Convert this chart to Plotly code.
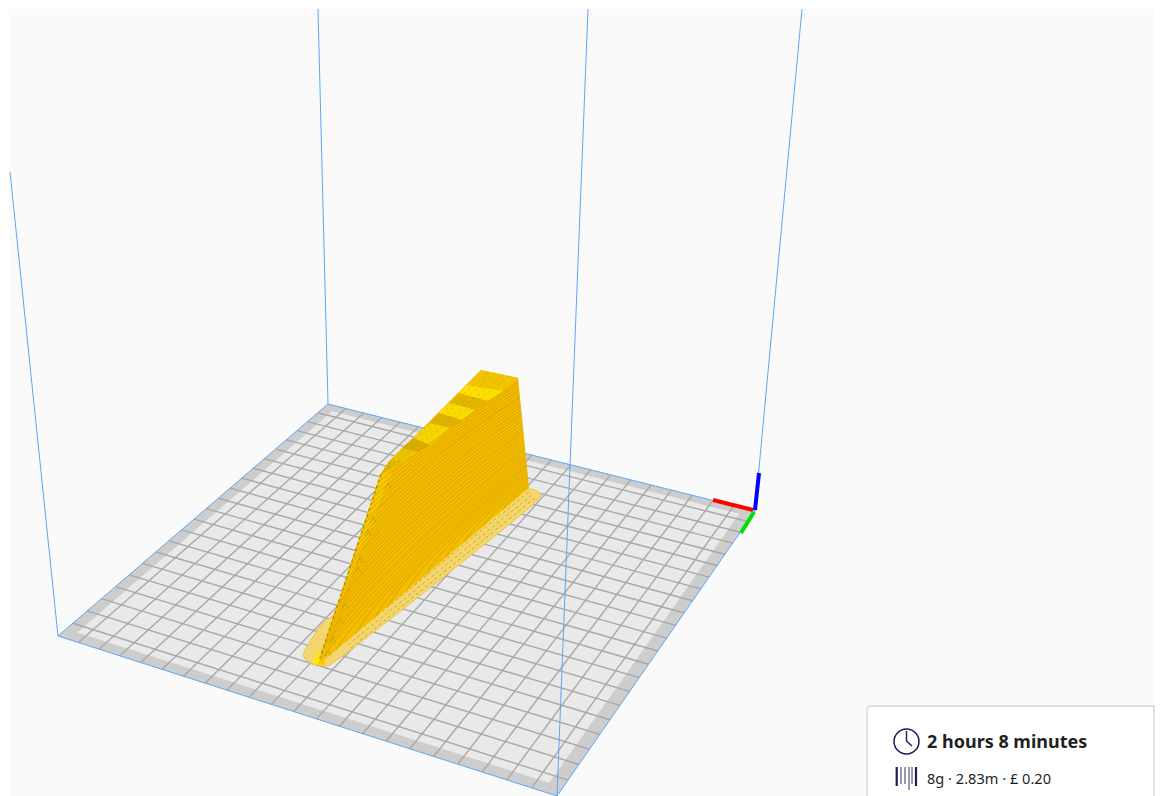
import numpy as np
import plotly.graph_objects as go

# ---- values (screen pixels of the viewport) ----
viewport_x = [9, 1154, 1154, 9, 9]
viewport_y = [9, 9, 796, 796, 9]

# plate corners: left, front, right, back
corner_x = [58, 557, 755, 328]
corner_y = [636, 796, 511, 404]
plate_mm = 220
grid_mm = [0, 10, 20, 30, 40, 50, 60, 70, 80, 90, 100, 110, 120, 130, 140, 150, 160, 170, 180, 190, 200, 210, 220]
border_mm = 5.5

# build volume verticals: base corner -> where it leaves the view
vert_x0 = [58, 328, 557, 755]
vert_y0 = [636, 404, 796, 511]
vert_x1 = [10, 318, 588, 802]
vert_y1 = [172, 9, 9, 9]

# axis gizmo
gizmo_red_x, gizmo_red_y = [713, 753], [500, 510]
gizmo_green_x, gizmo_green_y = [754, 741], [512, 533]
gizmo_blue_x, gizmo_blue_y = [755, 759], [510, 473]

# printed object
brim_x = [529, 537, 541, 537, 340, 327, 310, 303, 309, 323, 420]
brim_y = [489, 491, 495, 501, 658, 666, 663, 656, 643, 623, 560]
side_x = [518, 529, 317, 380, 390]
side_y = [378, 488, 666, 475, 462]
ridge_x = [380, 392, 331, 324, 317]
ridge_y = [475, 472, 628, 665, 666]
top_x = [481, 518, 380, 390]
top_y = [370, 378, 475, 461]
tip_x = [314, 321, 318, 316]
tip_y = [665, 665, 652, 652]

band_colors = ["#f2c400", "#fde000", "#e2b600", "#fbdc00", "#dfb100", "#f8d400", "#d8ac00", "#eec400", "#e4b600"]
band_x = [
    [481, 518, 503, 467], [467, 503, 488, 458], [458, 488, 475, 450],
    [450, 475, 462, 438], [438, 462, 450, 430], [430, 450, 430, 413],
    [413, 430, 418, 402], [402, 418, 403, 390], [390, 403, 380, 380],
]
band_y = [
    [370, 378, 391, 385], [385, 391, 401, 393], [393, 401, 410, 403],
    [403, 410, 420, 413], [413, 420, 428, 423], [423, 428, 445, 438],
    [438, 445, 452, 448], [448, 452, 462, 460], [460, 462, 475, 475],
]
hatch_x0 = [488, 495, 503, 510]
hatch_y0 = [372, 373, 375, 376]
hatch_x1 = [386, 384, 383, 381]
hatch_y1 = [465, 468, 471, 474]

# where each printed layer meets the right edge of the fin
layer_right_y = [381, 384, 387, 390, 393, 396, 398, 401, 404, 407, 410, 413, 415, 418,
                 421, 424, 427, 430, 432, 435, 438, 441, 444, 447, 449, 452, 455, 458,
                 461, 464, 466, 469, 472, 475, 478, 481, 484]

chevron_x = [388, 373, 368, 360, 358, 345, 340, 333, 328]
chevron_y = [483, 517, 530, 557, 567, 603, 618, 637, 650]

# info card
card_x0, card_y0, card_x1, card_y1 = 867, 706, 1154, 800
clock_cx, clock_cy, clock_r = 906.5, 741.5, 12.5
clock_hand_x, clock_hand_y = [906.5, 906.5, 912], [731, 741, 746]
bar_x = [896.7, 901, 905, 909, 912, 916]
bar_y0 = [767, 767, 767, 767, 767, 767]
bar_y1 = [786, 784, 784, 790, 784, 786]
bar_w = [2.2, 0.9, 0.9, 0.9, 0.9, 2.2]
title_text = "2 hours 8 minutes"
info_text = "8g · 2.83m · £ 0.20"
text_x, title_y, info_y = 927, 743.5, 780.5

NAVY = "#1c1a5c"
BLUE = "#5aa8f2"


def homography():
    src = [(0, 0), (plate_mm, 0), (plate_mm, plate_mm), (0, plate_mm)]
    a, b = [], []
    for (u, v), x, y in zip(src, corner_x, corner_y):
        a.append([u, v, 1, 0, 0, 0, -u * x, -v * x]); b.append(x)
        a.append([0, 0, 0, u, v, 1, -u * y, -v * y]); b.append(y)
    h = np.linalg.solve(np.array(a, float), np.array(b, float))
    return np.append(h, 1).reshape(3, 3)


H = homography()


def proj(u, v):
    p = H @ np.array([u, v, 1.0])
    return p[0] / p[2], p[1] / p[2]


def poly(pts, color, name):
    xs = [p[0] for p in pts] + [pts[0][0]]
    ys = [p[1] for p in pts] + [pts[0][1]]
    return go.Scatter(x=xs, y=ys, mode="lines", fill="toself", fillcolor=color,
                      line=dict(width=0, color=color), hoverinfo="skip", name=name)


fig = go.Figure()

# plate
lo, hi = border_mm, plate_mm - border_mm
fig.add_trace(poly([proj(0, 0), proj(plate_mm, 0), proj(plate_mm, plate_mm), proj(0, plate_mm)], "#cdcdcd", "plate border"))
fig.add_trace(poly([proj(lo, lo), proj(hi, lo), proj(hi, hi), proj(lo, hi)], "#e9e9e9", "plate"))

gx, gy = [], []
for g in grid_mm[1:-1]:
    for a, b in ((proj(g, 0), proj(g, plate_mm)), (proj(0, g), proj(plate_mm, g))):
        gx += [a[0], b[0], None]
        gy += [a[1], b[1], None]
fig.add_trace(go.Scatter(x=gx, y=gy, mode="lines", line=dict(color="#a8a8a8", width=1.4), hoverinfo="skip", name="grid"))

# plate outline (blue)
fig.add_trace(go.Scatter(x=corner_x + corner_x[:1], y=corner_y + corner_y[:1], mode="lines",
                         line=dict(color=BLUE, width=1), hoverinfo="skip", name="volume base"))

# back verticals
vx, vy = [], []
for i in range(4):
    vx += [vert_x0[i], vert_x1[i], None]
    vy += [vert_y0[i], vert_y1[i], None]
fig.add_trace(go.Scatter(x=vx, y=vy, mode="lines", line=dict(color=BLUE, width=1), hoverinfo="skip", name="volume edges"))

# brim
fig.add_trace(go.Scatter(x=brim_x + brim_x[:1], y=brim_y + brim_y[:1], mode="lines", fill="toself",
                         fillcolor="#f3d670", line=dict(color="#e8bd30", width=0.8, shape="spline", smoothing=0.6),
                         hoverinfo="skip", name="brim"))
for dx, dy in ((0, 0), (3, 3), (6, 6)):
    fig.add_trace(go.Scatter(x=[345 + dx, 530 + dx], y=[642 + dy, 491 + dy], mode="lines",
                             line=dict(color="#d9a800", width=1, dash="dot"), hoverinfo="skip", name="brim hatch"))

# side face
fig.add_trace(poly(list(zip(side_x, side_y)), "#f4bd00", "side"))
fig.add_trace(poly(list(zip(ridge_x, ridge_y)), "#f8c800", "ridge"))

# top face
fig.add_trace(poly(list(zip(top_x, top_y)), "#e8b800", "top"))
for c, bx, by in zip(band_colors, band_x, band_y):
    fig.add_trace(poly(list(zip(bx, by)), c, "top band"))
hx, hy = [], []
for i in range(len(hatch_x0)):
    hx += [hatch_x0[i], hatch_x1[i], None]
    hy += [hatch_y0[i], hatch_y1[i], None]
fig.add_trace(go.Scatter(x=hx, y=hy, mode="lines", opacity=0.55,
                         line=dict(color="#c09a00", width=0.8, dash="dot"), hoverinfo="skip", name="top hatch"))

# ridge texture
fig.add_trace(go.Scatter(x=[381, 318], y=[474, 664], mode="lines",
                         line=dict(color="#a58500", width=1.2, dash="dot"), hoverinfo="skip", name="ridge edge"))
cx, cy = [], []
for x, y in zip(chevron_x, chevron_y):
    cx += [x - 3, x, x + 3, None]
    cy += [y + 6, y, y + 6, None]
fig.add_trace(go.Scatter(x=cx, y=cy, mode="lines", opacity=0.6,
                         line=dict(color="#a8900f", width=0.9), hoverinfo="skip", name="chevrons"))
fig.add_trace(poly(list(zip(tip_x, tip_y)), "#ffe600", "tip"))

# layer arcs as one native quadratic path
Ox, Oy = side_x[1], side_y[1]
Tx, Ty = side_x[0], side_y[0]
Ex0, Ey0 = side_x[3], side_y[3]
Ex1, Ey1 = side_x[2], side_y[2]
parts = []
for ry in layer_right_y:
    f = (ry - Ty) / (Oy - Ty)
    rx = Tx + (Ox - Tx) * f
    if f < 0.7:
        t = f / 0.7
        ex, ey = Ex0 + (Ex1 - Ex0) * t, Ey0 + (Ey1 - Ey0) * t
    else:
        t = (f - 0.7) / 0.3
        ex, ey = Ex1 + (Ox - Ex1) * t, Ey1 + (Oy - Ey1) * t
    k = 0.5 + 0.45 * f
    qx = Ox + k * ((rx - Ox) + (ex - Ox))
    qy = Oy + k * ((ry - Oy) + (ey - Oy))
    parts.append(f"M{rx:.1f},{ry:.1f} Q{qx:.1f},{qy:.1f} {ex:.1f},{ey:.1f}")
layer_path = " ".join(parts)

# gizmo
for xs, ys, col in ((gizmo_red_x, gizmo_red_y, "#ff0000"), (gizmo_green_x, gizmo_green_y, "#00e000"),
                    (gizmo_blue_x, gizmo_blue_y, "#0000ff")):
    fig.add_trace(go.Scatter(x=xs, y=ys, mode="lines", line=dict(color=col, width=4), hoverinfo="skip", name="axis"))

# card icon pieces
fig.add_trace(go.Scatter(x=clock_hand_x, y=clock_hand_y, mode="lines", line=dict(color=NAVY, width=1.4),
                         hoverinfo="skip", name="clock hand"))
for x, y0, y1, w in zip(bar_x, bar_y0, bar_y1, bar_w):
    fig.add_trace(go.Scatter(x=[x, x], y=[y0, y1], mode="lines", line=dict(color=NAVY, width=w),
                             hoverinfo="skip", name="bar"))

fig.add_trace(go.Scatter(x=[text_x], y=[title_y], mode="text", text=[title_text], textposition="middle right",
                         textfont=dict(family="Noto Sans", size=18, color="#1f1f1f", weight=700), hoverinfo="skip", name="time"))
fig.add_trace(go.Scatter(x=[text_x], y=[info_y], mode="text", text=[info_text], textposition="middle right",
                         textfont=dict(family="Noto Sans", size=14.6, color="#1f1f1f"), hoverinfo="skip", name="usage"))

r = 5
card_path = (f"M{card_x0},{card_y1} L{card_x0},{card_y0 + r} Q{card_x0},{card_y0} {card_x0 + r},{card_y0} "
             f"L{card_x1},{card_y0} L{card_x1},{card_y1} Z")

fig.update_layout(
    width=1169, height=796, margin=dict(l=0, r=0, t=0, b=0),
    paper_bgcolor="#ffffff", plot_bgcolor="#ffffff", showlegend=False,
    xaxis=dict(range=[0, 1169], visible=False, fixedrange=True),
    yaxis=dict(range=[796, 0], visible=False, fixedrange=True),
    shapes=[
        dict(type="rect", xref="x", yref="y", x0=viewport_x[0], x1=viewport_x[1], y0=viewport_y[0], y1=viewport_y[2],
             fillcolor="#fafafa", line=dict(width=0), layer="below"),
        dict(type="path", xref="x", yref="y", path=card_path, fillcolor="#ffffff",
             line=dict(color="#d9d9d9", width=1.5), layer="below"),
        dict(type="circle", xref="x", yref="y", x0=clock_cx - clock_r, x1=clock_cx + clock_r,
             y0=clock_cy - clock_r, y1=clock_cy + clock_r, line=dict(color=NAVY, width=1.5), layer="above"),
        dict(type="path", xref="x", yref="y", path=layer_path, line=dict(color="#cf9a00", width=0.7), layer="above"),
    ],
)

fig.write_html("out.html", config={"displayModeBar": False},
               post_script="document.body.style.margin='0';document.body.style.overflow='hidden';")
